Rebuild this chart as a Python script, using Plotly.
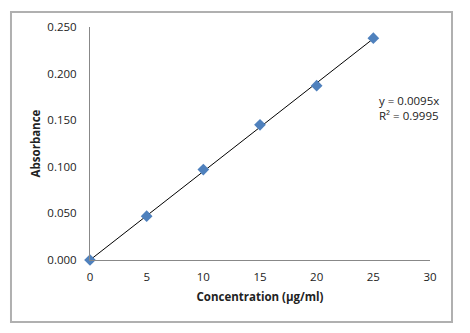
import plotly.graph_objects as go

conc = [0, 5, 10, 15, 20, 25]
absorb = [0.000, 0.047, 0.097, 0.145, 0.187, 0.238]
slope = 0.0095
x_ticks = [0, 5, 10, 15, 20, 25, 30]
y_ticks = [0.0, 0.05, 0.10, 0.15, 0.20, 0.25]
y_labels = ["0.000", "0.050", "0.100", "0.150", "0.200", "0.250"]

fig = go.Figure()
fig.add_trace(go.Scatter(x=[conc[0], conc[-1]], y=[slope * conc[0], slope * conc[-1]],
                         mode="lines", line=dict(color="black", width=1), hoverinfo="skip",
                         cliponaxis=False))
fig.add_trace(go.Scatter(x=conc, y=absorb, mode="markers", cliponaxis=False,
                         marker=dict(symbol="diamond", size=9, color="#4F81BD")))

fig.update_layout(
    width=470, height=333,
    margin=dict(l=90, r=40, t=27, b=73),
    paper_bgcolor="white", plot_bgcolor="white",
    showlegend=False,
    font=dict(family="Open Sans, Liberation Sans, sans-serif", size=11.5, color="#222"),
    xaxis=dict(range=[0, 30], tickvals=x_ticks, showgrid=False, zeroline=False,
               showline=True, linecolor="#888", linewidth=1, ticks="", ticklen=0,
               ticklabelstandoff=6,
               title=dict(text="<b>Concentration (µg/ml)</b>", font=dict(size=11.5), standoff=10)),
    yaxis=dict(range=[0, 0.25], tickvals=y_ticks, ticktext=y_labels, showgrid=False, zeroline=False,
               showline=True, linecolor="#888", linewidth=1, ticks="", ticklen=0,
               ticklabelstandoff=10,
               title=dict(text="<b>Absorbance</b>", font=dict(size=11.5), standoff=4)),
    shapes=[dict(type="rect", xref="paper", yref="paper",
                 x0=-0.2324, x1=1.0647, y0=-0.266, y1=1.0644,
                 line=dict(color="#b0b0b0", width=2))],
    annotations=[dict(x=25.3, y=0.163, xref="x", yref="y", xanchor="left", yanchor="middle",
                      text="y = 0.0095x<br>R² = 0.9995", showarrow=False, align="left",
                      font=dict(size=11.5, color="#222"))],
)
fig.write_html("out.html")
